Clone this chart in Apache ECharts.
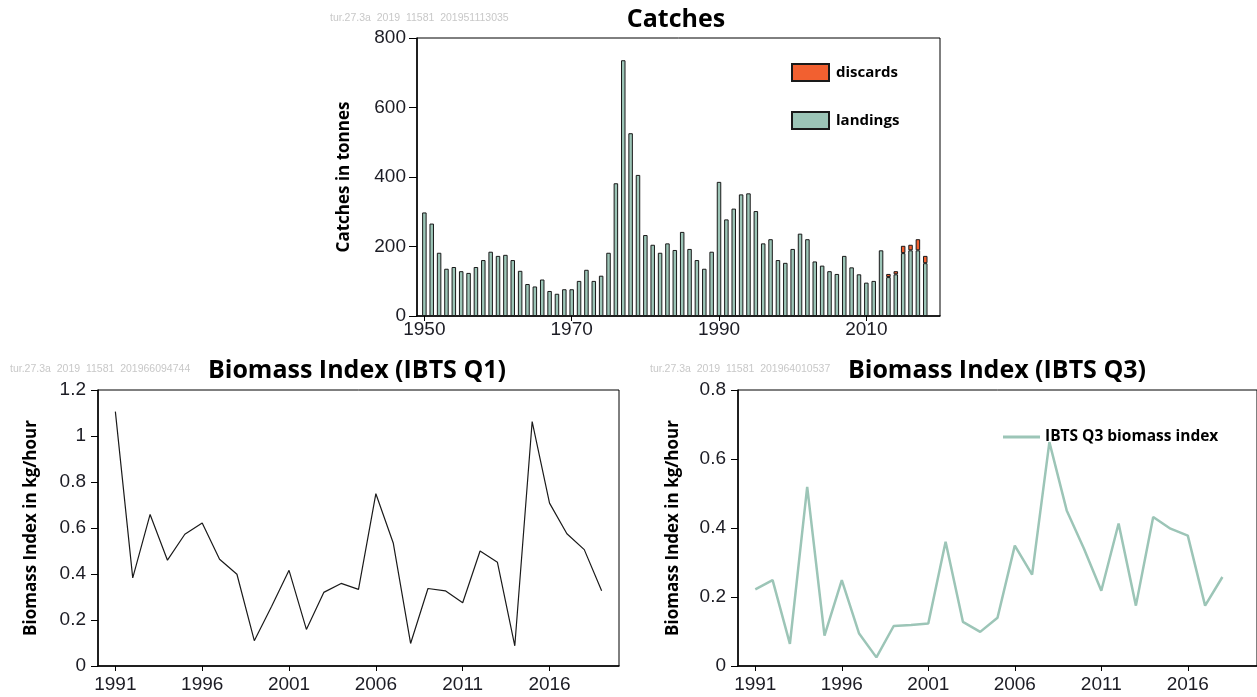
<!DOCTYPE html>
<html>
<head>
<meta charset="utf-8">
<script src="https://cdn.jsdelivr.net/npm/echarts@6/dist/echarts.min.js"></script>
<style>html,body{margin:0;padding:0;background:#fff}#c{width:1257px;height:697px}</style>
</head>
<body>
<div id="c"></div>
<script>
// ---- Catches ----
const catchYears = [1950,1951,1952,1953,1954,1955,1956,1957,1958,1959,1960,1961,1962,1963,1964,1965,1966,1967,1968,1969,1970,1971,1972,1973,1974,1975,1976,1977,1978,1979,1980,1981,1982,1983,1984,1985,1986,1987,1988,1989,1990,1991,1992,1993,1994,1995,1996,1997,1998,1999,2000,2001,2002,2003,2004,2005,2006,2007,2008,2009,2010,2011,2012,2013,2014,2015,2016,2017,2018];
const landings = [298,266,182,136,141,129,124,141,161,185,173,176,161,130,92,85,105,72,64,77,77,101,133,101,116,182,382,736,526,406,233,205,182,209,190,242,193,161,136,185,386,278,309,350,353,302,209,221,161,153,193,237,221,157,145,129,121,173,140,120,96,101,189,112,120,181,189,189,152];
const discards = [null,null,null,null,null,null,null,null,null,null,null,null,null,null,null,null,null,null,null,null,null,null,null,null,null,null,null,null,null,null,null,null,null,null,null,null,null,null,null,null,null,null,null,null,null,null,null,null,null,null,null,null,null,null,null,null,null,null,null,null,null,null,null,9,9,21,16,32,21];
const catchXTicks = ['1950','1970','1990','2010'];
const catchYTicks = [0,200,400,600,800];
// empty axis years before and after the data
const padBefore = [1949];
const padAfter = [2019,2020];

// ---- Biomass index ----
const q1Years = [1991,1992,1993,1994,1995,1996,1997,1998,1999,2000,2001,2002,2003,2004,2005,2006,2007,2008,2009,2010,2011,2012,2013,2014,2015,2016,2017,2018,2019];
const q1Values = [1.106,0.383,0.659,0.46,0.573,0.622,0.464,0.399,0.11,0.26,0.416,0.159,0.32,0.359,0.333,0.749,0.535,0.098,0.337,0.327,0.275,0.5,0.451,0.088,1.063,0.708,0.575,0.506,0.327];
const q3Years = [1991,1992,1993,1994,1995,1996,1997,1998,1999,2000,2001,2002,2003,2004,2005,2006,2007,2008,2009,2010,2011,2012,2013,2014,2015,2016,2017,2018];
const q3Values = [0.222,0.249,0.064,0.519,0.088,0.249,0.094,0.025,0.116,0.119,0.123,0.36,0.128,0.099,0.14,0.349,0.265,0.649,0.451,0.34,0.218,0.413,0.175,0.432,0.398,0.378,0.175,0.258];
const bioXTicks = [1991,1996,2001,2006,2011,2016];

const pair = (xs, ys) => xs.map((x, i) => [x, ys[i]]);
const axisCats = padBefore.concat(catchYears, padAfter).map(String);
const padSeries = arr => padBefore.map(() => '-').concat(arr.map(v => v == null ? '-' : v), padAfter.map(() => '-'));

const LBL = {color:'#1c1c24', fontFamily:'"Liberation Sans Narrow","Liberation Sans",Arial,sans-serif', fontSize:19};
const TITLE = {fontFamily:'"Open Sans","Noto Sans",sans-serif', fontWeight:'bold', fontSize:25, color:'#000'};
const NAME = {fontFamily:'"Open Sans","Noto Sans",sans-serif', fontWeight:'bold', fontSize:17, color:'#000'};
const AX = {lineStyle:{color:'#000', width:1.5}};
const WM = {fill:'#c8c8c8', font:'10.5px "Liberation Sans",Arial,sans-serif'};
const GREEN = '#9cc5b7';
const ORANGE = '#f26030';
const catchTick = (i, v) => catchXTicks.indexOf(String(v)) >= 0;

const chart = echarts.init(document.getElementById('c'), null, {renderer:'canvas'});
chart.setOption({
  animation:false,
  title:[
    {text:'Catches', left:676, top:7, textAlign:'center', textStyle:TITLE, padding:0},
    {text:'Biomass Index (IBTS Q1)', left:357, top:358, textAlign:'center', textStyle:TITLE, padding:0},
    {text:'Biomass Index (IBTS Q3)', left:997, top:358, textAlign:'center', textStyle:TITLE, padding:0}
  ],
  graphic:[
    {type:'text', left:330, top:13, style:Object.assign({text:'tur.27.3a  2019  11581  201951113035'}, WM)},
    {type:'text', left:10, top:364, style:Object.assign({text:'tur.27.3a  2019  11581  201966094744'}, WM)},
    {type:'text', left:650, top:364, style:Object.assign({text:'tur.27.3a  2019  11581  201964010537'}, WM)}
  ],
  legend:[
    {data:['discards','landings'], orient:'vertical', left:791, top:63, padding:0, itemWidth:37, itemHeight:17, itemGap:29,
     icon:'rect', textStyle:{fontFamily:'"Open Sans","Noto Sans",sans-serif', fontWeight:'bold', fontSize:15, lineHeight:17, color:'#000', padding:[0,0,0,2]}},
    {data:['IBTS Q3 biomass index'], left:1003, top:428, padding:0, itemWidth:37, itemHeight:3, icon:'rect',
     textStyle:{fontFamily:'"Open Sans","Noto Sans",sans-serif', fontWeight:'bold', fontSize:15.5, lineHeight:18, color:'#000'}}
  ],
  grid:[
    {left:417, top:38, right:317, bottom:381, show:true, borderColor:'#000', borderWidth:1},
    {left:98, top:390, right:638, bottom:31, show:true, borderColor:'#000', borderWidth:1},
    {left:738, top:390, right:-22, bottom:31, show:true, borderColor:'#000', borderWidth:1}
  ],
  xAxis:[
    {type:'category', gridIndex:0, data:axisCats, boundaryGap:false, splitLine:{show:false}, axisLine:AX,
     axisTick:{show:true, length:5, lineStyle:{color:'#000'}, interval:catchTick},
     axisLabel:Object.assign({margin:4, interval:catchTick}, LBL)},
    {type:'value', gridIndex:1, min:1990, max:2020, splitLine:{show:false}, axisLine:AX,
     axisTick:{show:true, length:5, lineStyle:{color:'#000'}, customValues:bioXTicks},
     axisLabel:Object.assign({margin:9, customValues:bioXTicks, formatter:v=>String(v)}, LBL)},
    {type:'value', gridIndex:2, min:1990, max:2020, splitLine:{show:false}, axisLine:AX,
     axisTick:{show:true, length:5, lineStyle:{color:'#000'}, customValues:bioXTicks},
     axisLabel:Object.assign({margin:9, customValues:bioXTicks, formatter:v=>String(v)}, LBL)}
  ],
  yAxis:[
    {type:'value', gridIndex:0, min:0, max:800, interval:200, splitLine:{show:false}, axisLine:Object.assign({show:true},AX),
     axisTick:{show:true, length:8, lineStyle:{color:'#000'}}, axisLabel:Object.assign({margin:11}, LBL),
     name:'Catches in tonnes', nameLocation:'middle', nameGap:64, nameTextStyle:NAME},
    {type:'value', gridIndex:1, min:0, max:1.2, interval:0.2, splitLine:{show:false}, axisLine:Object.assign({show:true},AX),
     axisTick:{show:true, length:7, lineStyle:{color:'#000'}}, axisLabel:Object.assign({margin:12}, LBL),
     name:'Biomass Index in kg/hour', nameLocation:'middle', nameGap:58, nameTextStyle:NAME},
    {type:'value', gridIndex:2, min:0, max:0.8, interval:0.2, splitLine:{show:false}, axisLine:Object.assign({show:true},AX),
     axisTick:{show:true, length:7, lineStyle:{color:'#000'}}, axisLabel:Object.assign({margin:12}, LBL),
     name:'Biomass Index in kg/hour', nameLocation:'middle', nameGap:56, nameTextStyle:NAME}
  ],
  series:[
    {name:'landings', type:'bar', xAxisIndex:0, yAxisIndex:0, stack:'c', barWidth:4.5,
     itemStyle:{color:GREEN, borderColor:'#1a1a1a', borderWidth:1}, data:padSeries(landings)},
    {name:'discards', type:'bar', xAxisIndex:0, yAxisIndex:0, stack:'c', barWidth:4.5,
     itemStyle:{color:ORANGE, borderColor:'#1a1a1a', borderWidth:1}, data:padSeries(discards)},
    {name:'IBTS Q1 biomass index', type:'line', xAxisIndex:1, yAxisIndex:1, showSymbol:false, symbol:'none',
     lineStyle:{color:'#1a1a1a', width:1.2}, itemStyle:{color:'#1a1a1a'}, data:pair(q1Years, q1Values)},
    {name:'IBTS Q3 biomass index', type:'line', xAxisIndex:2, yAxisIndex:2, showSymbol:false, symbol:'none',
     lineStyle:{color:GREEN, width:2.5}, itemStyle:{color:GREEN}, data:pair(q3Years, q3Values)}
  ]
});
</script>
</body>
</html>
